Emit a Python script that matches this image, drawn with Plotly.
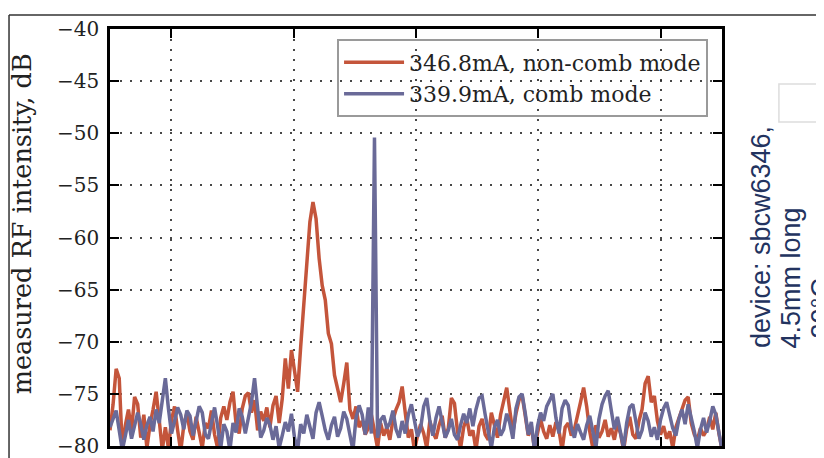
import numpy as np
import plotly.graph_objects as go

# ---- data ----
n_samples = 200
freq = np.linspace(0.0, 5.0, n_samples)  # arbitrary frequency axis, no labels shown

noncomb_346_8mA = [
    -78.5, -76.0, -72.6, -73.5, -80.2, -78.0, -76.5, -78.5, -75.3, -76.0,
    -79.2, -77.0, -80.2, -78.0, -76.5, -74.8, -77.5, -80.4, -78.2, -80.2,
    -77.5, -76.2, -78.5, -80.5, -78.0, -76.8, -78.6, -79.4, -77.2, -78.8,
    -80.2, -77.8, -78.3, -76.6, -78.9, -80.2, -77.3, -76.2, -77.5, -75.8,
    -74.8, -77.9, -78.8, -76.4, -75.2, -74.9, -76.8, -75.6, -78.5, -76.7,
    -77.6, -76.3, -78.2, -76.1, -75.2, -77.8, -75.5, -71.6, -74.5, -70.8,
    -72.8, -74.8, -70.5, -66.5, -63.0, -58.5, -56.6, -58.2, -62.0, -64.6,
    -66.0, -69.2, -70.2, -73.2, -74.5, -75.8, -74.0, -72.0, -76.5, -77.4,
    -76.2, -78.2, -77.6, -78.9, -78.3, -77.0, -78.6, -80.2, -77.8, -79.0,
    -78.2, -79.4, -77.5, -76.5, -75.8, -74.3, -76.8, -79.2, -78.4, -80.4,
    -79.0, -77.9, -78.8, -80.2, -77.6, -78.7, -79.3, -78.0, -77.1, -79.2,
    -78.3, -75.4, -75.9, -78.6, -80.2, -78.2, -77.3, -79.0, -78.5, -80.4,
    -78.1, -77.4, -78.9, -79.4, -76.8, -77.9, -79.2, -77.0, -75.5, -74.4,
    -76.6, -78.7, -76.9, -75.6, -75.1, -77.3, -79.0, -78.1, -80.2, -78.8,
    -77.4, -78.6, -79.3, -78.0, -79.1, -77.7, -78.5, -80.4, -78.2, -77.8,
    -79.0, -78.4, -76.9, -75.8, -74.4, -76.2, -78.6, -80.2, -78.0, -79.2,
    -78.6, -77.5, -79.1, -78.3, -79.4, -77.9, -78.8, -80.4, -78.4, -77.2,
    -78.9, -79.3, -77.6, -76.5, -74.0, -73.3, -75.8, -75.2, -77.6, -78.9,
    -78.1, -79.3, -78.6, -80.2, -78.2, -77.4, -76.6, -75.6, -75.3, -77.8,
    -78.9, -79.4, -78.3, -79.0, -78.5, -77.2, -78.4, -76.8, -78.8, -80.3,
]

comb_339_9mA = [
    -78.2, -77.4, -76.6, -78.5, -80.4, -79.0, -77.5, -79.3, -78.2, -76.8,
    -77.9, -79.4, -78.0, -77.2, -78.6, -76.5, -77.8, -75.5, -73.5, -76.4,
    -78.8, -77.6, -76.3, -77.0, -78.4, -76.6, -77.1, -79.0, -77.5, -76.2,
    -76.8, -78.9, -79.3, -77.6, -76.3, -78.1, -80.2, -77.9, -78.6, -80.4,
    -77.8, -78.7, -76.4, -77.2, -78.8, -77.3, -75.8, -73.5, -76.5, -79.2,
    -78.5, -77.3, -78.0, -79.4, -78.1, -80.2, -79.0, -77.7, -78.6, -76.9,
    -79.2, -80.4, -77.9, -78.8, -77.0, -78.2, -79.3, -76.8, -75.8, -77.1,
    -78.5, -79.4, -78.0, -77.2, -79.1, -78.3, -76.7, -77.4, -78.9, -80.4,
    -77.3, -76.1, -77.0, -78.9, -76.3, -78.8, -50.4, -79.2, -77.5, -77.1,
    -78.3, -77.8, -76.6, -78.4, -79.2, -77.6, -78.8, -77.0, -76.0, -77.4,
    -79.1, -78.3, -76.2, -75.4, -77.6, -79.0, -77.3, -76.2, -77.8, -79.2,
    -78.5, -77.4, -78.9, -79.4, -78.0, -76.9, -77.8, -76.4, -78.1, -76.5,
    -75.4, -75.2, -77.0, -78.8, -80.2, -78.2, -77.5, -79.0, -78.4, -76.9,
    -77.8, -79.3, -76.4, -75.3, -75.0, -76.8, -78.9, -77.7, -80.4, -78.1,
    -76.8, -77.6, -76.2, -75.6, -75.0, -77.3, -78.8, -76.4, -75.6, -76.1,
    -78.2, -79.2, -77.9, -78.7, -79.4, -78.0, -77.1, -78.6, -80.2, -77.4,
    -76.0, -75.2, -74.7, -76.6, -78.4, -77.2, -78.9, -80.2, -77.8, -76.3,
    -76.0, -77.9, -79.3, -78.5, -76.8, -77.6, -79.1, -78.2, -79.4, -77.5,
    -76.4, -75.8, -76.9, -78.3, -79.0, -77.4, -76.5, -77.9, -76.0, -77.2,
    -78.6, -80.2, -78.4, -77.3, -78.7, -77.6, -76.2, -77.0, -78.8, -80.4,
]

series_names = ["346.8mA, non-comb mode", "339.9mA, comb mode"]
series_colors = ["#C4553B", "#6A6A98"]

y_tick_values = [-80, -75, -70, -65, -60, -55, -50, -45, -40]
y_tick_labels = ["\u221280", "\u221275", "\u221270", "\u221265", "\u221260",
                 "\u221255", "\u221250", "\u221245", "\u221240"]
x_grid_values = [0.5, 1.5, 2.5, 3.5, 4.5]

y_title = "measured RF intensity, dB"
side_note_lines = ["device: sbcw6346,", "4.5mm long", "-20\u00b0C"]

# ---- figure ----
fig = go.Figure()
for name, vals, col in zip(series_names, [noncomb_346_8mA, comb_339_9mA], series_colors):
    fig.add_trace(go.Scatter(x=freq, y=vals, mode="lines", name=name,
                             line=dict(color=col, width=3.5)))

serif = "DejaVu Serif"
grid_col = "rgba(40,40,40,0.85)"

fig.update_layout(
    width=816, height=450,
    margin=dict(l=102, r=102, t=21, b=12, autoexpand=False),
    paper_bgcolor="white", plot_bgcolor="white",
    showlegend=True,
    legend=dict(x=0.371, y=0.975, xanchor="left", yanchor="top",
                bgcolor="rgba(255,255,255,0)", bordercolor="#9a9a9a", borderwidth=2,
                font=dict(family=serif, size=22, color="#222222"),
                itemwidth=60, tracegroupgap=0),
    xaxis=dict(range=[0, 5], tickvals=x_grid_values, showticklabels=False,
               ticks="inside", ticklen=9, tickwidth=1.5, tickcolor="black",
               showline=True, linewidth=2.5, linecolor="black", mirror="ticks",
               showgrid=True, gridcolor=grid_col, gridwidth=1.5, griddash="2px,8px",
               zeroline=False, automargin=False),
    yaxis=dict(range=[-80, -40], tickvals=y_tick_values, ticktext=y_tick_labels,
               ticks="inside", ticklen=9, tickwidth=1.5, tickcolor="black",
               ticklabelstandoff=4, ticklabeloverflow="allow",
               tickfont=dict(family=serif, size=20, color="#222222"),
               showline=True, linewidth=2.5, linecolor="black", mirror="ticks",
               showgrid=True, gridcolor=grid_col, gridwidth=1.5, griddash="2px,8px",
               zeroline=False, automargin=False),
)

# y axis title
fig.add_annotation(text=y_title, xref="paper", yref="paper", x=-0.144, y=0.534,
                   textangle=-90, showarrow=False, xanchor="center", yanchor="middle",
                   font=dict(family=serif, size=25.5, color="#222222"))

# rotated note at the right edge, one annotation per line
for line_text, xpos in zip(side_note_lines, [1.0637, 1.1127, 1.1618]):
    fig.add_annotation(text=line_text, xref="paper", yref="paper", x=xpos, y=0.23,
                       textangle=-90, showarrow=False, xanchor="center", yanchor="bottom",
                       font=dict(family="Liberation Sans", size=27, color="#23335f"))

# screenshot frame lines and small box at right
fig.add_shape(type="line", xref="paper", yref="paper", x0=-0.165, x1=1.17, y0=1.0336, y1=1.0336,
              line=dict(color="#333333", width=1.5))
fig.add_shape(type="line", xref="paper", yref="paper", x0=-0.165, x1=-0.165, y0=-0.05, y1=1.0336,
              line=dict(color="#333333", width=1.5))
fig.add_shape(type="rect", xref="paper", yref="paper", x0=1.093, x1=1.25, y0=0.777, y1=0.868,
              line=dict(color="#dddddd", width=1.5), fillcolor="white")

fig.write_html("out.html")
